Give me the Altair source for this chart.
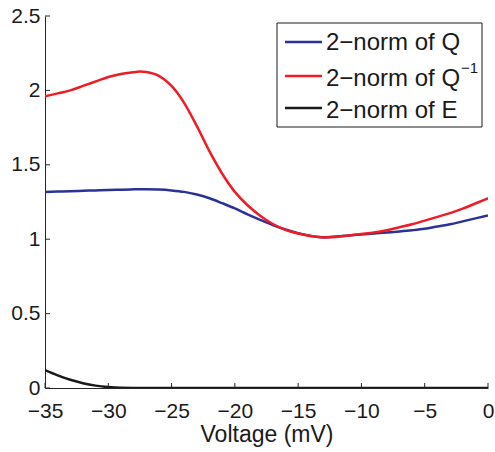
import altair as alt
import pandas as pd

# Membrane voltage grid (mV)
voltage = [-35, -34, -33, -32, -31, -30, -29, -28, -27.5, -27, -26, -25, -24, -23, -22,
           -21, -20, -19, -18, -17, -16, -15, -14, -13, -12, -11, -10, -9, -8, -7,
           -6, -5, -4, -3, -2, -1, 0]

norm_q = [1.318, 1.320, 1.322, 1.325, 1.328, 1.331, 1.333, 1.335, 1.336, 1.336, 1.334,
          1.328, 1.318, 1.300, 1.275, 1.242, 1.207, 1.167, 1.130, 1.095, 1.065, 1.040,
          1.022, 1.013, 1.018, 1.025, 1.032, 1.038, 1.045, 1.052, 1.060, 1.070, 1.085,
          1.100, 1.120, 1.140, 1.160]

norm_qinv = [1.960, 1.980, 2.000, 2.030, 2.060, 2.090, 2.110, 2.122, 2.127, 2.123, 2.097,
             2.030, 1.915, 1.760, 1.590, 1.440, 1.318, 1.228, 1.158, 1.102, 1.063, 1.038,
             1.022, 1.012, 1.015, 1.025, 1.035, 1.045, 1.060, 1.080, 1.100, 1.125, 1.150,
             1.175, 1.205, 1.240, 1.275]

norm_e = [0.120, 0.085, 0.055, 0.032, 0.016, 0.006, 0.001, 0.0, 0.0, 0.0, 0.0,
          0.0, 0.0, 0.0, 0.0, 0.0, 0.0, 0.0, 0.0, 0.0, 0.0, 0.0,
          0.0, 0.0, 0.0, 0.0, 0.0, 0.0, 0.0, 0.0, 0.0, 0.0, 0.0,
          0.0, 0.0, 0.0, 0.0]

series_names = ["Q", "Qinv", "E"]
legend_labels = ["2−norm of Q", "2−norm of Q", "2−norm of E"]
superscript = "−1"
series_colors = ["#2b3196", "#ee1c25", "#1a1a1a"]

x_ticks = [-35, -30, -25, -20, -15, -10, -5, 0]
y_ticks = [0, 0.5, 1, 1.5, 2, 2.5]

FONT = "Liberation Sans"
W, H = 443, 372

rows = []
for name, vals in zip(series_names, [norm_q, norm_qinv, norm_e]):
    for v, n in zip(voltage, vals):
        rows.append({"voltage": v, "norm": n, "series": name})
df = pd.DataFrame(rows)

xscale = alt.Scale(domain=[-35, 0], nice=False, zero=False)
yscale = alt.Scale(domain=[0, 2.5], nice=False, zero=False)

lines = alt.Chart(df).mark_line(strokeWidth=2.5, clip=True, interpolate="monotone").encode(
    x=alt.X("voltage:Q", scale=xscale,
            axis=alt.Axis(values=x_ticks, title="Voltage (mV)", grid=False,
                          tickSize=0, labelPadding=12, labelFlush=False,
                          titleBaseline="alphabetic", titleY=53)),
    y=alt.Y("norm:Q", scale=yscale,
            axis=alt.Axis(values=y_ticks, title=None, grid=False,
                          tickSize=0, labelPadding=5, format="~g")),
    color=alt.Color("series:N",
                    scale=alt.Scale(domain=series_names, range=series_colors),
                    legend=None),
    detail="series:N",
    order=alt.Order("voltage:Q"),
)

# Inward-pointing tick marks on both axes
xt = alt.Chart(pd.DataFrame({"t": x_ticks})).mark_rule(color="#262626", strokeWidth=1).encode(
    x=alt.X("t:Q", scale=xscale), y=alt.value(H), y2=alt.value(H - 5))
yt = alt.Chart(pd.DataFrame({"t": y_ticks})).mark_rule(color="#262626", strokeWidth=1).encode(
    y=alt.Y("t:Q", scale=yscale), x=alt.value(0), x2=alt.value(5))

# Boxed legend in the upper right corner (pixel layout inside the plot area)
box_left, box_right, box_top, box_bottom = 232, 437, 7, 111
swatch_x0, swatch_x1, text_x = 240, 277, 281
swatch_y = [26, 60, 92]
text_baseline_y = [34, 70, 102]

legend_layers = [
    alt.Chart(df.head(1)).mark_rect(fill="white", stroke="#1a1a1a", strokeWidth=1).encode(
        x=alt.value(box_left), x2=alt.value(box_right),
        y=alt.value(box_top), y2=alt.value(box_bottom))
]
for label, color, sy, ty in zip(legend_labels, series_colors, swatch_y, text_baseline_y):
    legend_layers.append(
        alt.Chart(df.head(1)).mark_rule(color=color, strokeWidth=2.5).encode(
            x=alt.value(swatch_x0), x2=alt.value(swatch_x1), y=alt.value(sy)))
    legend_layers.append(
        alt.Chart(df.head(1)).mark_text(text=label, font=FONT, fontSize=24, color="#1a1a1a",
                                        align="left", baseline="alphabetic").encode(
            x=alt.value(text_x), y=alt.value(ty)))
legend_layers.append(
    alt.Chart(df.head(1)).mark_text(text=superscript, font=FONT, fontSize=15, color="#1a1a1a",
                                    align="left", baseline="alphabetic").encode(
        x=alt.value(416), y=alt.value(text_baseline_y[1] - 13)))

chart = alt.layer(xt, yt, lines, *legend_layers).properties(
    width=W, height=H,
    background="white",
    padding={"left": 45, "top": 16, "right": 7, "bottom": 64},
    autosize=alt.AutoSizeParams(type="none"),
).configure_view(stroke=None).configure_axis(
    domainColor="#262626", domainWidth=1, labelFont=FONT, labelFontSize=21,
    labelColor="#1a1a1a", titleFont=FONT, titleFontSize=23, titleColor="#1a1a1a",
    titleFontWeight="normal",
)

chart.save("out.html", embed_options={"renderer": "svg", "actions": False})
